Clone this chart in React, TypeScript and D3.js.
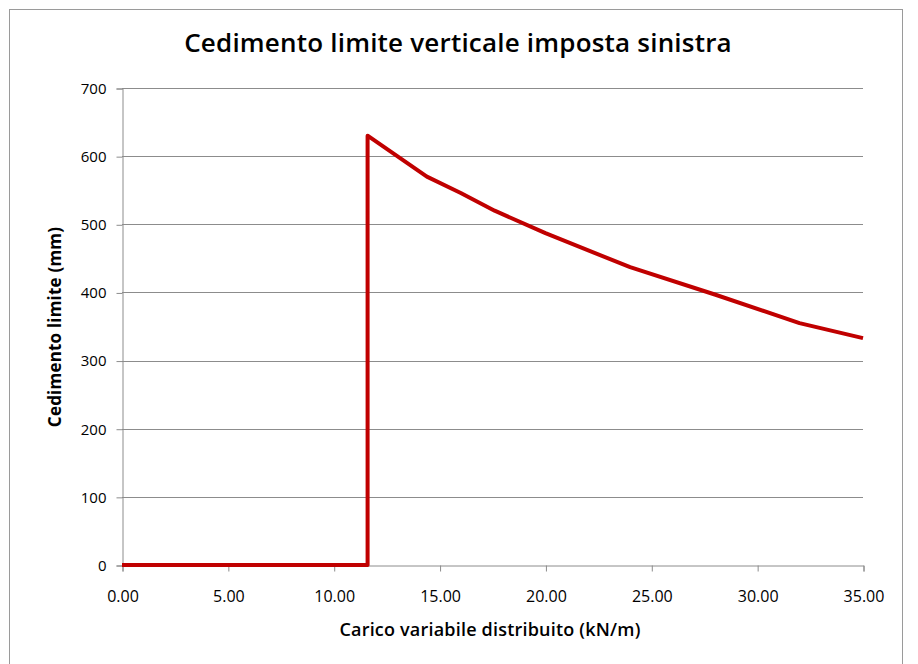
import React, { useRef, useEffect } from 'react';
import * as d3 from 'd3';

// carico variabile (kN/m) vs cedimento limite (mm)
const carico: number[] = [0, 11.6, 11.6, 14.4, 16.0, 17.6, 20.0, 24.0, 28.0, 32.0, 35.0];
const cedimento: number[] = [0, 0, 630, 570, 546, 520, 487, 437, 397, 355, 333];
const xTicks: number[] = [0, 5, 10, 15, 20, 25, 30, 35];
const yTicks: number[] = [0, 100, 200, 300, 400, 500, 600, 700];

const W = 918;
const H = 664;

const CedimentoChart: React.FC = () => {
  const svgRef = useRef<SVGSVGElement | null>(null);

  useEffect(() => {
    const svg = d3.select(svgRef.current!);
    svg.selectAll('*').remove();

    const left = 122, right = 863, top = 88, bottom = 565;

    const x = d3.scaleLinear().domain([0, 35]).range([left, right]);
    const y = d3.scaleLinear().domain([0, 700]).range([bottom, top]);

    svg.append('rect')
      .attr('width', W).attr('height', H).attr('fill', '#fff');

    // chart frame
    svg.append('rect')
      .attr('x', 9.5).attr('y', 9.5)
      .attr('width', 893).attr('height', 700)
      .attr('fill', 'none').attr('stroke', '#9a9a9a').attr('stroke-width', 1);

    svg.append('text')
      .attr('x', 458).attr('y', 52)
      .attr('text-anchor', 'middle')
      .style('font-family', '"Open Sans", sans-serif')
      .style('font-weight', 600)
      .style('font-size', '26px')
      .style('letter-spacing', '0.2px')
      .attr('fill', '#000')
      .text('Cedimento limite verticale imposta sinistra');

    // gridlines
    svg.append('g')
      .selectAll('line')
      .data(yTicks.filter((d) => d > 0))
      .enter()
      .append('line')
      .attr('x1', left).attr('x2', right)
      .attr('y1', (d) => Math.round(y(d)) + 0.5)
      .attr('y2', (d) => Math.round(y(d)) + 0.5)
      .attr('stroke', '#8c8c8c').attr('stroke-width', 1);

    const yAxis = svg.append('g')
      .attr('transform', `translate(${left + 0.5},0.5)`)
      .call(d3.axisLeft(y).tickValues(yTicks).tickSizeOuter(0).tickSize(6).tickPadding(10));
    yAxis.select('.domain').attr('stroke', '#8c8c8c');
    yAxis.selectAll('.tick line').attr('stroke', '#8c8c8c');
    yAxis.selectAll('.tick text')
      .attr('fill', '#000')
      .style('font-family', '"Open Sans", sans-serif')
      .style('font-size', '15px');

    const xAxis = svg.append('g')
      .attr('transform', `translate(0.5,${bottom + 0.5})`)
      .call(d3.axisBottom(x).tickValues(xTicks).tickSizeOuter(0).tickSize(6).tickPadding(19)
        .tickFormat((d) => (d as number).toFixed(2)));
    xAxis.select('.domain').attr('stroke', '#8c8c8c');
    xAxis.selectAll('.tick line').attr('stroke', '#8c8c8c');
    xAxis.selectAll('.tick text')
      .attr('fill', '#000')
      .style('font-family', '"Open Sans", sans-serif')
      .style('font-size', '16px');

    svg.append('text')
      .attr('x', 490).attr('y', 636)
      .attr('text-anchor', 'middle')
      .style('font-family', '"Open Sans", sans-serif')
      .style('font-weight', 600)
      .style('font-size', '18px')
      .style('letter-spacing', '0.2px')
      .attr('fill', '#000')
      .text('Carico variabile distribuito (kN/m)');

    svg.append('text')
      .attr('transform', `translate(61,${327}) rotate(-90)`)
      .attr('text-anchor', 'middle')
      .style('font-family', '"Open Sans", sans-serif')
      .style('font-weight', 700)
      .style('font-size', '17px')
      .style('letter-spacing', '0.2px')
      .attr('fill', '#000')
      .text('Cedimento limite (mm)');

    const pts: [number, number][] = carico.map((c, i) => [c, cedimento[i]]);
    const line = d3.line<[number, number]>()
      .x((d) => x(d[0]))
      .y((d) => y(d[1]));

    svg.append('path')
      .datum(pts)
      .attr('d', line)
      .attr('fill', 'none')
      .attr('stroke', '#c00000')
      .attr('stroke-width', 4)
      .attr('stroke-linejoin', 'round');
  }, []);

  return (
    <svg
      ref={svgRef}
      width={W}
      height={H}
      style={{ position: 'absolute', left: 0, top: 0, display: 'block' }}
    />
  );
};

export default function App() {
  return <CedimentoChart />;
}
